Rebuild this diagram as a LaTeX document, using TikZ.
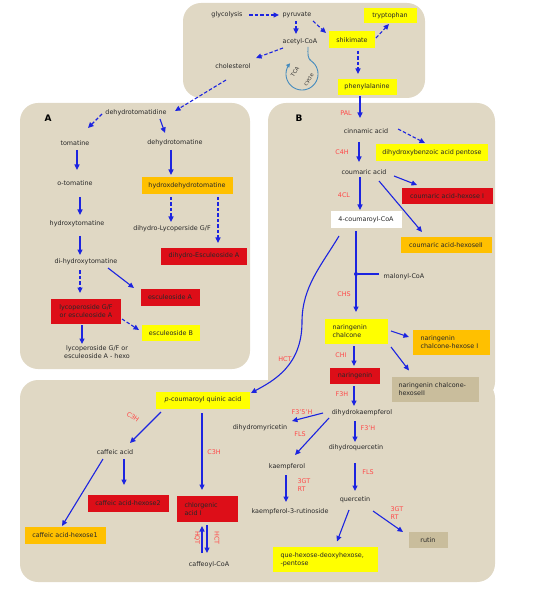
\documentclass[tikz,border=0pt]{standalone}
\usepackage{fontspec}
\setmainfont{DejaVu Sans}
\usetikzlibrary{arrows.meta,calc}
\definecolor{bgc}{RGB}{224,216,196}
\definecolor{ybox}{RGB}{255,255,0}
\definecolor{obox}{RGB}{255,192,0}
\definecolor{rbox}{RGB}{221,14,24}
\definecolor{tbox}{RGB}{201,189,156}
\definecolor{arrc}{RGB}{28,36,224}
\definecolor{enzc}{RGB}{255,72,72}
\definecolor{txtc}{RGB}{40,40,40}
\definecolor{tcac}{RGB}{70,140,190}
\newcommand\myfs{\fontsize{6.4}{7.8}\selectfont}
\tikzset{
 panel/.style={fill=bgc, draw=none, rounded corners=18pt},
 lbl/.style={font=\myfs, text=txtc, inner sep=1pt, align=center},
 box/.style n args={3}{lbl, fill=#1, minimum width=#2, minimum height=#3, inner sep=0pt},
 lbox/.style n args={4}{box={#1}{#2}{#3}, text width=#4, align=left},
 enz/.style={font=\myfs, text=enzc, inner sep=0pt, align=left},
 arr/.style={draw=arrc, line width=1.1pt, -{Triangle[length=5.5pt,width=5pt]}},
 darr/.style={arr, dash pattern=on 3.5pt off 2pt},
 panlbl/.style={font=\fontsize{9}{10}\selectfont\bfseries, text=black, inner sep=0pt},
 tcatxt/.style={font=\fontsize{5.2}{5.8}\selectfont, text=txtc, rotate=55, inner sep=0pt},
}
\begin{document}
\begin{tikzpicture}[x=1pt,y=-1pt]
\useasboundingbox (0,0) rectangle (536,593);
% panels
\fill[panel] (183,3) rectangle (425,98);
\fill[panel] (20,103) rectangle (250,369);
\fill[panel] (268,103) rectangle (495,400);
\fill[panel] (20,380) rectangle (495,582);

% top nodes
\node[lbl] (glyc) at (227,15) {glycolysis};
\node[lbl] (pyr) at (297,15) {pyruvate};
\node[box={ybox}{53pt}{15pt}] (tryp) at (390,16) {tryptophan};
\node[lbl] (acoa) at (300,42) {acetyl-CoA};
\node[box={ybox}{46pt}{17pt}] (shik) at (352,40) {shikimate};
\node[lbl] (chol) at (233,66) {cholesterol};
\node[box={ybox}{59pt}{16pt}] (phe) at (367,87) {phenylalanine};
\coordinate (tca) at (302,74);
\node[tcatxt] (tcaa) at (295,72) {TCA};
\node[tcatxt] (tcab) at (309,80) {cycle};

% panel A
\node[panlbl] (labA) at (48,118) {A};
\node[lbl] (dhtd) at (136,113) {dehydrotomatidine};
\node[lbl] (tom) at (75,143) {tomatine};
\node[lbl] (dhtm) at (175,143) {dehydrotomatine};
\node[lbl] (otom) at (75,183) {o-tomatine};
\node[box={obox}{91pt}{17pt}] (hdhtm) at (187,186) {hydroxdehydrotomatine};
\node[lbl] (hytom) at (77,224) {hydroxytomatine};
\node[lbl] (dhlyc) at (172,229) {dihydro-Lycoperside G/F};
\node[box={rbox}{86pt}{17pt}] (dhesc) at (204,256) {dihydro-Esculeoside A};
\node[lbl] (dihy) at (86,262) {di-hydroxytomatine};
\node[box={rbox}{59pt}{17pt}] (escA) at (170,297) {esculeoside A};
\node[box={rbox}{70pt}{25pt}] (lyco) at (86,311) {lycoperoside G/F\\or esculeoside A};
\node[box={ybox}{58pt}{16pt}] (escB) at (171,333) {esculeoside B};
\node[lbl] (hexo) at (97,352.5) {lycoperoside G/F or\\esculeoside A - hexo};

% panel B
\node[panlbl] (labB) at (299,118) {B};
\node[enz] (ePAL) at (346,113) {PAL};
\node[lbl] (cinn) at (366,131) {cinnamic acid};
\node[box={ybox}{112pt}{17pt}] (dhb) at (432,153) {dihydroxybenzoic acid pentose};
\node[enz] (eC4H) at (342,152) {C4H};
\node[lbl] (cou) at (364,172) {coumaric acid};
\node[box={rbox}{91pt}{16pt}] (cah1) at (447,196) {coumaric acid-hexose I};
\node[enz] (e4CL) at (344,195) {4CL};
\node[box={white}{71pt}{17pt}] (ccoa) at (366,220) {4-coumaroyl-CoA};
\node[box={obox}{91pt}{16pt}] (cah2) at (446,245) {coumaric acid-hexoseII};
\node[lbl] (mal) at (404,277) {malonyl-CoA};
\node[circle, fill=arrc, inner sep=0pt, minimum size=4pt] (dot) at (356,274) {};
\node[enz] (eCHS) at (344,294) {CHS};
\node[lbox={ybox}{63pt}{25pt}{47pt}] (nch) at (356,331) {naringenin\\chalcone};
\node[lbox={obox}{77pt}{25pt}{61pt}] (nch1) at (451,342) {naringenin\\chalcone-hexose I};
\node[enz] (eCHI) at (341,355) {CHI};
\node[box={rbox}{50pt}{16pt}] (nar) at (355,376) {naringenin};
\node[lbox={tbox}{87pt}{25pt}{73pt}] (nch2) at (435,389.5) {naringenin chalcone-\\hexoseII};
\node[enz] (eHCT) at (285,359) {HCT};
\coordinate (hctm) at (302,322);

% bottom panel
\node[box={ybox}{94pt}{17pt}] (quin) at (203,400) {\textit{p}-coumaroyl quinic acid};
\node[enz, rotate=-35] (eC3Ha) at (133,417) {C3H};
\node[lbl] (caf) at (115,452) {caffeic acid};
\node[enz] (eC3Hb) at (214,452) {C3H};
\node[box={rbox}{81pt}{17pt}] (cah2b) at (128,503) {caffeic acid-hexose2};
\node[lbox={rbox}{61pt}{26pt}{45pt}] (chl) at (207,509) {chlorgenic\\acid I};
\node[box={obox}{81pt}{17pt}] (cah1b) at (65,535) {caffeic acid-hexose1};
\node[lbl] (cafcoa) at (209,565) {caffeoyl-CoA};
\node[enz, rotate=-90] (eHQT) at (197,538) {HQT};
\node[enz, rotate=-90] (eHCTb) at (217,538) {HCT};
\node[enz] (eF3H) at (342,394) {F3H};
\node[lbl] (dhk) at (362,413) {dihydrokaempferol};
\node[enz] (eF35H) at (302,412) {F3'5'H};
\node[lbl] (dhm) at (260,428) {dihydromyricetin};
\node[enz] (eFLSa) at (300,434) {FLS};
\node[enz] (eF3pH) at (368,428) {F3'H};
\node[lbl] (dhq) at (356,448) {dihydroquercetin};
\node[lbl] (kae) at (287,467) {kaempferol};
\node[enz] (eGTa) at (304,485) {3GT\\RT};
\node[lbl] (k3r) at (290,512) {kaempferol-3-rutinoside};
\node[enz] (eFLSb) at (368,472) {FLS};
\node[lbl] (que) at (355,500) {quercetin};
\node[enz] (eGTb) at (397,513) {3GT\\RT};
\node[box={tbox}{39pt}{16pt}] (rutin) at (428,540) {rutin};
\node[lbox={ybox}{105pt}{25pt}{89pt}] (qhd) at (325,559.5) {que-hexose-deoxyhexose,\\-pentose};

% top arrows
\draw[darr] ($(glyc)+(22,0)$) -- ($(pyr)+(-18,0)$);
\draw[darr] ($(pyr)+(-1,6)$) -- ($(acoa)+(-4,-8)$);
\draw[darr] ($(pyr)+(16,6)$) -- ($(shik)+(-26,-7)$);
\draw[darr] ($(shik)+(24,-2)$) -- ($(tryp)+(-1,8)$);
\draw[darr] ($(shik)+(6,11)$) -- ($(phe)+(-9,-13)$);
\draw[darr] ($(acoa)+(-17,6)$) -- ($(chol)+(23,-8)$);
\draw[darr] ($(chol)+(-7,14)$) -- ($(dhtd)+(39,-2)$);
\draw[arr] ($(phe)+(-7,9)$) -- ($(cinn)+(-6,-13)$);
\draw[tcac, line width=0.9pt, -{Triangle[length=4pt,width=4pt]}]
  ($(acoa)+(8,5)$) .. controls +(0,7) and +(-4,-3) .. (311.2,60.9)
  -- plot[domain=-55:222, samples=60] ({302+16*cos(\x)},{74+16*sin(\x)});

% panel A arrows
\draw[darr] ($(dhtd)+(-34,1)$) -- ($(tom)+(13,-15)$);
\draw[arr] ($(dhtd)+(24,6)$) -- ($(dhtm)+(-10,-10)$);
\draw[arr] ($(tom)+(2,7)$) -- ($(otom)+(2,-13)$);
\draw[arr] ($(dhtm)+(-4,7)$) -- ($(hdhtm)+(-16,-11)$);
\draw[arr] ($(otom)+(5,14)$) -- ($(hytom)+(3,-9)$);
\draw[darr] ($(hdhtm)+(-16,11)$) -- ($(dhlyc)+(-1,-7)$);
\draw[darr] ($(hdhtm)+(31,11)$) -- ($(dhesc)+(14,-13)$);
\draw[arr] ($(hytom)+(3,12)$) -- ($(dihy)+(-6,-7)$);
\draw[darr] ($(dihy)+(-6,8)$) -- ($(lyco)+(-6,-18)$);
\draw[arr] ($(dihy)+(22,6)$) -- ($(escA)+(-36,-9)$);
\draw[darr] ($(lyco)+(36,8)$) -- ($(escB)+(-32,-3)$);
\draw[arr] ($(lyco)+(-4,14)$) -- ($(hexo)+(-15,-8.5)$);

% panel B arrows
\draw[darr] ($(cinn)+(32,-2)$) -- ($(dhb)+(-7,-10)$);
\draw[arr] ($(cinn)+(-7,11)$) -- ($(cou)+(-5,-10)$);
\draw[arr] ($(cou)+(30,4)$) -- ($(cah1)+(-30,-11)$);
\draw[arr] ($(cou)+(15,9)$) -- ($(cah2)+(-24,-13)$);
\draw[arr] ($(cou)+(-4,5)$) -- ($(ccoa)+(-6,-10)$);
\draw[arr] ($(ccoa)+(-10,11)$) -- ($(nch)+(0,-19)$);
\draw[draw=arrc, line width=1.1pt] ($(mal)+(-25,-3)$) -- (dot);
\draw[arr] ($(nch)+(35,0)$) -- ($(nch1)+(-42,-5)$);
\draw[arr] ($(nch)+(35,16)$) -- ($(nch2)+(-26,-19)$);
\draw[arr] ($(nch)+(-2,15)$) -- ($(nar)+(-1,-10)$);
\draw[arr] ($(nar)+(-1,10)$) -- ($(dhk)+(-8,-7)$);
\draw[arr] ($(ccoa)+(-27,16)$) .. controls +(-18,30) and +(0,-35) .. (hctm)
  .. controls +(0,44) and +(22,-12) .. ($(quin)+(48,-7)$);

% bottom arrows
\draw[arr] ($(quin)+(-42,12)$) -- ($(caf)+(15,-9)$);
\draw[arr] ($(quin)+(-1,13)$) -- ($(chl)+(-5,-19)$);
\draw[arr] ($(caf)+(9,7)$) -- ($(cah2b)+(-4,-18)$);
\draw[arr] ($(caf)+(-12,7)$) -- ($(cah1b)+(-3,-9)$);
\draw[arr] ($(cafcoa)+(-7,-12)$) -- ($(chl)+(-5,17)$);
\draw[arr] ($(chl)+(0,16)$) -- ($(cafcoa)+(-2,-12)$);
\draw[arr] ($(dhk)+(-39,0)$) -- ($(dhm)+(32,-7)$);
\draw[arr] ($(dhk)+(-33,5)$) -- ($(kae)+(8,-12)$);
\draw[arr] ($(dhk)+(-7,8)$) -- ($(dhq)+(-1,-6)$);
\draw[arr] ($(dhq)+(-1,15)$) -- ($(que)+(0,-9)$);
\draw[arr] ($(kae)+(-1,8)$) -- ($(k3r)+(-4,-10)$);
\draw[arr] ($(que)+(-6,10)$) -- ($(qhd)+(12,-18)$);
\draw[arr] ($(que)+(18,11)$) -- ($(rutin)+(-25,-8)$);
\end{tikzpicture}
\end{document}
